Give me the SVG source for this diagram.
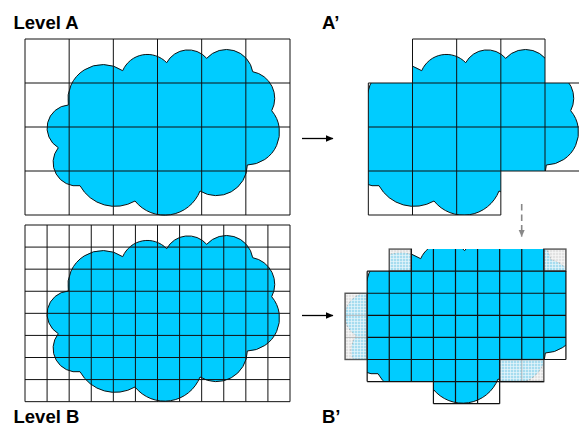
<svg xmlns="http://www.w3.org/2000/svg" xmlns:xlink="http://www.w3.org/1999/xlink" width="579" height="425" viewBox="0 0 579 425">
<style>
.lbl{font-family:"Liberation Sans",Arial,sans-serif;font-weight:bold;font-size:18.5px;fill:#000}
.cloud{fill:#00ccff;stroke:#111;stroke-width:1}
.grid{fill:none;stroke:#111;stroke-width:1}
.grid2{fill:none;stroke:#111;stroke-width:1.2}
.gcell{fill:#e2e2e2}
.gcloud{fill:#a6dcef;stroke:#999;stroke-width:0.8;stroke-dasharray:2 1.5}
.gborder{fill:none;stroke:#555;stroke-width:1.4}
.faint{fill:none;stroke:#aaa;stroke-width:0.8}
.arr{stroke:#000;stroke-width:1.3;fill:none}
.darr{stroke:#888;stroke-width:1.6;fill:none;stroke-dasharray:6.5 4}
</style>
<defs>
<path id="cloud" d="M68.3,105 A35,35 0 0 1 122.7,70.7 A26.8,26.8 0 0 1 166.7,62.7 A24.5,24.5 0 0 1 206.7,58.3 A26.6,26.6 0 0 1 252.7,71.7 A27,27 0 0 1 271.7,110.7 A33,33 0 0 1 247.3,165 A31,31 0 0 1 200,191 A38,38 0 0 1 135,201 A40,40 0 0 1 80,185.7 A23.5,23.5 0 0 1 58.3,147.7 A23,23 0 0 1 68.3,105 Z"/>
<clipPath id="clipA2">
<rect x="412.5" y="39" width="132.5" height="44"/>
<rect x="368.33" y="83" width="220.84" height="88"/>
<rect x="368.33" y="171" width="132.5" height="44"/>
</clipPath>
<clipPath id="clipB2">
<rect x="411.33" y="249.08" width="132.5" height="22.09"/>
<rect x="367.17" y="271.17" width="198.75" height="88.33"/>
<rect x="367.17" y="359.5" width="132.5" height="22.08"/>
<rect x="433.42" y="381.58" width="66.25" height="22.09"/>
</clipPath>
<clipPath id="clipG">
<rect x="389.25" y="249.08" width="22.08" height="22.09"/>
<rect x="543.83" y="249.08" width="22.09" height="22.09"/>
<rect x="345.08" y="293.25" width="22.09" height="66.25"/>
<rect x="499.67" y="359.5" width="44.16" height="22.08"/>
</clipPath>
<pattern id="hatch" width="3" height="3" patternUnits="userSpaceOnUse">
<path d="M0,0.5H3M0.5,0V3" stroke="#fff" stroke-width="0.7" opacity="0.75"/>
</pattern>
<marker id="ah" markerWidth="8" markerHeight="8" viewBox="0 0 8 8" refX="7" refY="4" orient="auto" markerUnits="userSpaceOnUse">
<path d="M0,0.7 L7.5,4 L0,7.3 Z" fill="#000"/>
</marker>
<marker id="ahg" markerWidth="8" markerHeight="8" viewBox="0 0 8 8" refX="7" refY="4" orient="auto" markerUnits="userSpaceOnUse">
<path d="M0,0.8 L7.5,4 L0,7.2 Z" fill="#888"/>
</marker>
</defs>

<g id="label-levelA"><text class="lbl" x="13.5" y="29">Level A</text></g>
<g id="label-A2"><text class="lbl" x="322" y="29">A’</text></g>
<g id="label-levelB"><text class="lbl" x="13.5" y="422.5">Level B</text></g>
<g id="label-B2"><text class="lbl" x="322" y="422.5">B’</text></g>

<g id="levelA">
<use xlink:href="#cloud" href="#cloud" class="cloud"/>
<path class="grid" d="M25,39V215M69.17,39V215M113.33,39V215M157.5,39V215M201.67,39V215M245.83,39V215M290,39V215M25,39H290M25,83H290M25,127H290M25,171H290M25,215H290"/>
</g>

<g id="levelB">
<use xlink:href="#cloud" href="#cloud" class="cloud" transform="translate(0,186)"/>
<path class="grid" d="M25,225V401.67M47.08,225V401.67M69.17,225V401.67M91.25,225V401.67M113.33,225V401.67M135.42,225V401.67M157.5,225V401.67M179.58,225V401.67M201.67,225V401.67M223.75,225V401.67M245.83,225V401.67M267.92,225V401.67M290,225V401.67M25,225H290M25,247.08H290M25,269.17H290M25,291.25H290M25,313.33H290M25,335.42H290M25,357.5H290M25,379.58H290M25,401.67H290"/>
</g>

<g id="levelA2">
<g clip-path="url(#clipA2)">
<use xlink:href="#cloud" href="#cloud" class="cloud" transform="translate(299,0)"/>
</g>
<path class="grid" d="M412.5,39H545M368.33,83H589.17M368.33,127H589.17M368.33,171H589.17M368.33,215H500.83M368.33,83V215M412.5,39V215M456.67,39V215M500.83,39V215M545,39V171M589.17,83V171"/>
</g>

<g id="levelB2">
<g clip-path="url(#clipB2)">
<use xlink:href="#cloud" href="#cloud" class="cloud" transform="translate(298,188)"/>
</g>
<g id="B2-partial">
<rect class="gcell" x="389.25" y="249.08" width="22.08" height="22.09"/>
<rect class="gcell" x="543.83" y="249.08" width="22.09" height="22.09"/>
<rect class="gcell" x="345.08" y="293.25" width="22.09" height="66.25"/>
<rect class="gcell" x="499.67" y="359.5" width="44.16" height="22.08"/>
<g clip-path="url(#clipG)">
<use xlink:href="#cloud" href="#cloud" class="gcloud" transform="translate(298,188)"/>
<rect x="340" y="245" width="230" height="140" fill="url(#hatch)"/>
</g>
<path class="faint" d="M345.08,315.33H367.17M345.08,337.42H367.17M521.75,359.5V381.58"/>
<rect class="gborder" x="389.25" y="249.08" width="22.08" height="22.09"/>
<rect class="gborder" x="543.83" y="249.08" width="22.09" height="22.09"/>
<rect class="gborder" x="345.08" y="293.25" width="22.09" height="66.25"/>
<rect class="gborder" x="499.67" y="359.5" width="44.16" height="22.08"/>
</g>
<path class="grid2" d="M367.17,271.17H565.92M367.17,293.25H565.92M367.17,315.33H565.92M367.17,337.42H565.92M367.17,359.5H565.92M367.17,381.58H543.83M433.42,403.67H499.67M367.17,271.17V381.58M389.25,271.17V381.58M411.33,249.08V381.58M433.42,249.08V403.67M455.5,249.08V403.67M477.58,249.08V403.67M499.67,249.08V403.67M521.75,249.08V359.5M543.83,249.08V359.5M565.92,271.17V359.5"/>
</g>

<g id="connectors">
<line class="arr" x1="302" y1="138.5" x2="333" y2="138.5" marker-end="url(#ah)"/>
<line class="arr" x1="302" y1="315.5" x2="333" y2="315.5" marker-end="url(#ah)"/>
<line class="darr" x1="521.7" y1="204" x2="521.7" y2="236.5" marker-end="url(#ahg)"/>
</g>
</svg>
